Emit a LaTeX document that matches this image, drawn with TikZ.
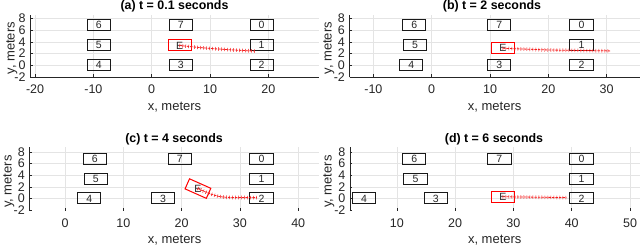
\documentclass[tikz,border=0pt]{standalone}
\usepackage{fontspec}
\setmainfont{Liberation Sans}
\usetikzlibrary{decorations.markings}
\definecolor{gridc}{HTML}{E4E4E4}
\definecolor{axc}{HTML}{262626}
\definecolor{trajred}{HTML}{F51E1E}
\tikzset{
  veh/.style={draw=black!90, line width=1pt, minimum width=23.3pt, minimum height=11pt, inner sep=0pt, font=\fontsize{10.5}{10.5}\selectfont, text=black!85},
  ego/.style={veh, draw=red},
  traj/.style={draw=trajred, line width=0.8pt, dash pattern=on 2.5pt off 1pt,
    postaction={decorate, decoration={markings, mark=between positions 0 and 1 step 3pt with {\draw[trajred, line width=0.5pt, solid] (0,-1.8pt) -- (0,1.8pt);}}}},
  gridline/.style={draw=gridc, line width=0.5pt},
  axisline/.style={draw=axc, line width=0.6pt},
  tickmark/.style={draw=axc, line width=0.5pt},
  ticklab/.style={font=\fontsize{12.5}{12.5}\selectfont, text=axc, inner sep=0pt},
  axlab/.style={font=\fontsize{13}{13}\selectfont, text=axc, inner sep=0pt},
  ttl/.style={font=\fontsize{12.4}{12.4}\selectfont\bfseries, text=black, inner sep=0pt, anchor=base},
}
% #1 xmin, #2 xmax, #3 ymin, #4 ymax, #5 x tick list, #6 draw bottom line (1/0)
\newcommand{\myaxes}[6]{%
  \foreach \gx in {#5} \draw[gridline] (\gx,#3) -- (\gx,#4);
  \foreach \gy in {0,2,4,6,8} \draw[gridline] (#1,\gy) -- (#2,\gy);
  \draw[axisline] (#1,#4) -- (#1,#3);
  \ifnum#6=1 \draw[axisline] (#1,#3) -- (#2,#3);\fi
  \foreach \gy in {-2,0,2,4,6,8} {
    \draw[tickmark] (#1,\gy) -- ++(2.5pt,0);
    \node[ticklab, anchor=east] at (#1-0.75,\gy) {\gy};
  }
  \foreach \gx in {#5} {
    \draw[tickmark] (\gx,#3) -- ++(0,2.5pt);
    \node[ticklab, anchor=base] at (\gx,#3-2.9) {\gx};
  }
}
\begin{document}
\begin{tikzpicture}[x=1pt,y=1pt]
\useasboundingbox (0,0) rectangle (640,245);

% ---------------- (a) ----------------
\begin{scope}[shift={(151.7,179.8)}, x=5.83pt, y=5.83pt]
  \myaxes{-20.87}{28.78}{-2.02}{8.6}{-20,-10,0,10,20}{1}
  \node[ttl] (ta) at (3.91,9.55) {(a) t = 0.1 seconds};
  \node[axlab, anchor=base] (xla) at (3.91,-7.74) {x, meters};
  \node[axlab, anchor=base, rotate=90] (yla) at (-23.53,2.9) {y, meters};
  \node[veh] (a6) at (-9.07,6.85) {6};
  \node[veh] (a5) at (-9.07,3.4) {5};
  \node[veh] (a4) at (-9.07,0) {4};
  \node[veh] (a7) at (4.97,6.85) {7};
  \node[veh] (a3) at (4.97,0) {3};
  \node[veh] (a0) at (18.86,6.85) {0};
  \node[veh] (a1) at (18.86,3.4) {1};
  \node[veh] (a2) at (18.86,0) {2};
  \node[ego] (aE) at (4.8,3.38) {E};
  \coordinate (aend) at (17.7,2.42);
  \draw[traj] (aE.center) .. controls (8.2,3.0) and (11.7,2.7) .. (aend);
\end{scope}

% ---------------- (b) ----------------
\begin{scope}[shift={(431.7,179.8)}, x=5.83pt, y=5.83pt]
  \myaxes{-14.1}{35.7}{-2.02}{8.6}{-10,0,10,20,30}{1}
  \node[ttl] (tb) at (10.34,9.55) {(b) t = 2 seconds};
  \node[axlab, anchor=base] (xlb) at (10.8,-7.74) {x, meters};
  \node[axlab, anchor=base, rotate=90] (ylb) at (-17.15,2.9) {y, meters};
  \node[veh] (b6) at (-3.0,6.85) {6};
  \node[veh] (b5) at (-2.85,3.4) {5};
  \node[veh] (b4) at (-3.5,0) {4};
  \node[veh] (b7) at (11.6,6.85) {7};
  \node[veh] (b3) at (11.6,0) {3};
  \node[veh] (b0) at (25.7,6.85) {0};
  \node[veh] (b1) at (25.7,3.4) {1};
  \node[veh] (b2) at (25.7,0) {2};
  \node[ego] (bE) at (12.2,2.9) {E};
  \coordinate (bend) at (30.6,2.45);
  \draw[traj] (bE.center) -- (20.3,2.6) -- (bend);
\end{scope}

% ---------------- (c) ----------------
\begin{scope}[shift={(65,46.5)}, x=5.83pt, y=5.83pt]
  \myaxes{-6.12}{43.65}{-2.14}{8.78}{0,10,20,30,40}{0}
  \node[ttl] (tc) at (18.7,9.57) {(c) t = 4 seconds};
  \node[axlab, anchor=base] (xlc) at (18.8,-7.72) {x, meters};
  \node[axlab, anchor=base, rotate=90] (ylc) at (-9.14,2.88) {y, meters};
  \node[veh] (c6) at (5.1,6.85) {6};
  \node[veh] (c5) at (5.3,3.4) {5};
  \node[veh] (c4) at (4.15,0) {4};
  \node[veh] (c7) at (19.7,6.85) {7};
  \node[veh] (c3) at (16.8,0) {3};
  \node[veh] (c0) at (33.7,6.85) {0};
  \node[veh] (c1) at (33.7,3.4) {1};
  \node[veh] (c2) at (33.7,0) {2};
  \node[ego, rotate=-24] (cE) at (22.8,1.7) {\rotatebox{24}{E}};
  \coordinate (cend) at (32.9,0.15);
  \draw[traj] (cE.center) .. controls (25.2,0.6) and (26.2,0.2) .. (28.5,0.18) -- (cend);
\end{scope}

% ---------------- (d) ----------------
\begin{scope}[shift={(338.5,46.5)}, x=5.83pt, y=5.83pt]
  \myaxes{1.97}{51.7}{-2.14}{8.78}{10,20,30,40,50}{0}
  \node[ttl] (td) at (26.67,9.57) {(d) t = 6 seconds};
  \node[axlab, anchor=base] (xld) at (26.8,-7.72) {x, meters};
  \node[axlab, anchor=base, rotate=90] (yld) at (-1.17,2.88) {y, meters};
  \node[veh] (d6) at (13.0,6.85) {6};
  \node[veh] (d5) at (13.2,3.4) {5};
  \node[veh] (d4) at (4.4,0) {4};
  \node[veh] (d7) at (27.6,6.85) {7};
  \node[veh] (d3) at (16.7,0) {3};
  \node[veh] (d0) at (41.7,6.85) {0};
  \node[veh] (d1) at (41.7,3.4) {1};
  \node[veh] (d2) at (41.7,0) {2};
  \node[ego] (dE) at (28.2,0.3) {E};
  \coordinate (dend) at (39.1,0.15);
  \draw[traj] (dE.center) -- (dend);
\end{scope}
\end{tikzpicture}
\end{document}
